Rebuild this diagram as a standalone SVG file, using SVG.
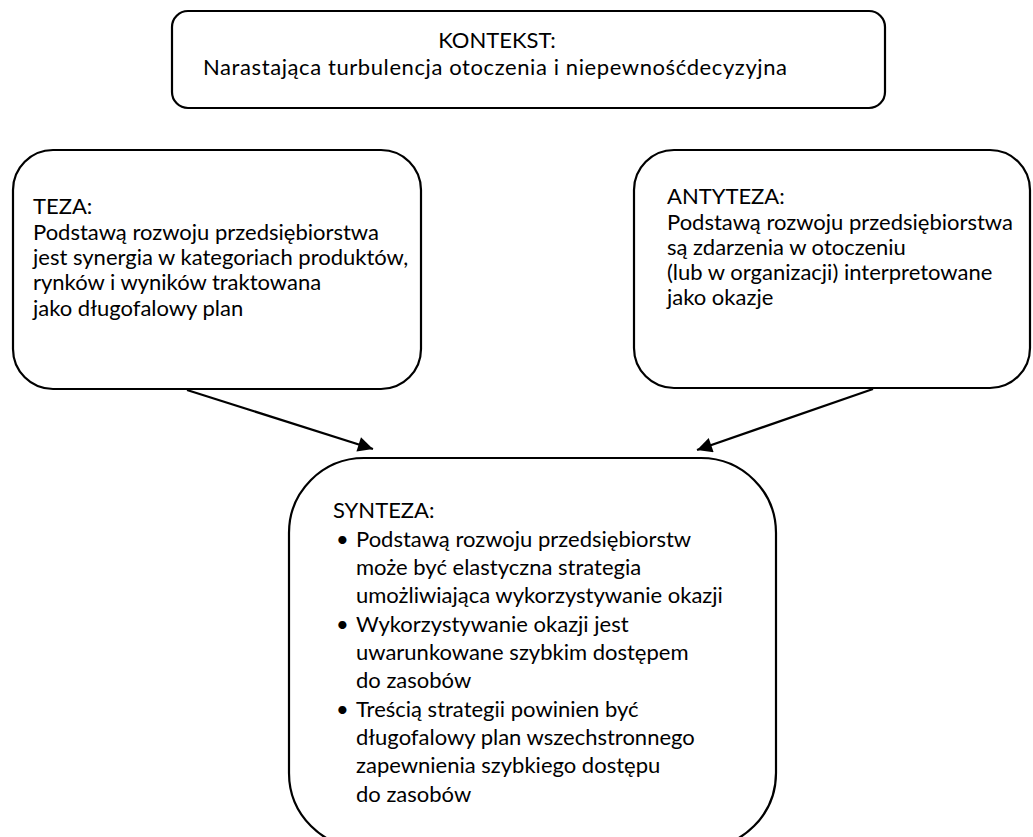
<svg xmlns="http://www.w3.org/2000/svg" width="1033" height="837" viewBox="0 0 1033 837">
<style>
.box{fill:#fff;stroke:#000;stroke-width:2.2}
text{font-family:Lato,"Liberation Sans",sans-serif;font-size:22px;fill:#000}
.c{text-anchor:middle}
.conn{stroke:#000;stroke-width:2.2;fill:none;marker-end:url(#ah)}
</style>
<defs>
<marker id="ah" viewBox="0 0 10 10" refX="10" refY="5" markerWidth="19" markerHeight="15" markerUnits="userSpaceOnUse" orient="auto">
<path d="M0,0 L10,5 L0,10 Z" fill="#000"/>
</marker>
</defs>
<rect width="1033" height="837" fill="#fff"/>
<g id="kontekst">
<rect class="box" x="172" y="11" width="713" height="97" rx="16"/>
<text class="c" x="497" y="48">KONTEKST:</text>
<text x="203" y="75" textLength="584" lengthAdjust="spacing">Narastająca turbulencja otoczenia i niepewnośćdecyzyjna</text>
</g>
<g id="teza">
<rect class="box" x="13" y="150" width="408" height="239" rx="40"/>
<text x="33" y="214">TEZA:</text>
<text x="33" y="240">Podstawą rozwoju przedsiębiorstwa</text>
<text x="33" y="265">jest synergia w kategoriach produktów,</text>
<text x="33" y="290">rynków i wyników traktowana</text>
<text x="33" y="316">jako długofalowy plan</text>
</g>
<g id="antyteza">
<rect class="box" x="634" y="150" width="396" height="238" rx="40"/>
<text x="667" y="204">ANTYTEZA:</text>
<text x="667" y="230">Podstawą rozwoju przedsiębiorstwa</text>
<text x="667" y="255">są zdarzenia w otoczeniu</text>
<text x="667" y="280">(lub w organizacji) interpretowane</text>
<text x="667" y="305">jako okazje</text>
</g>
<g id="synteza">
<rect class="box" x="289" y="458" width="487" height="390" rx="75"/>
<text x="333" y="518">SYNTEZA:</text>
<text x="336" y="547">•</text>
<text x="356" y="547">Podstawą rozwoju przedsiębiorstw</text>
<text x="356" y="575">może być elastyczna strategia</text>
<text x="356" y="603">umożliwiająca wykorzystywanie okazji</text>
<text x="336" y="632">•</text>
<text x="356" y="632">Wykorzystywanie okazji jest</text>
<text x="356" y="660">uwarunkowane szybkim dostępem</text>
<text x="356" y="688">do zasobów</text>
<text x="336" y="717">•</text>
<text x="356" y="717">Treścią strategii powinien być</text>
<text x="356" y="745">długofalowy plan wszechstronnego</text>
<text x="356" y="773">zapewnienia szybkiego dostępu</text>
<text x="356" y="802">do zasobów</text>
</g>
<g id="connectors">
<line class="conn" x1="187" y1="390" x2="373" y2="449"/>
<line class="conn" x1="873" y1="389" x2="697" y2="450"/>
</g>
</svg>
